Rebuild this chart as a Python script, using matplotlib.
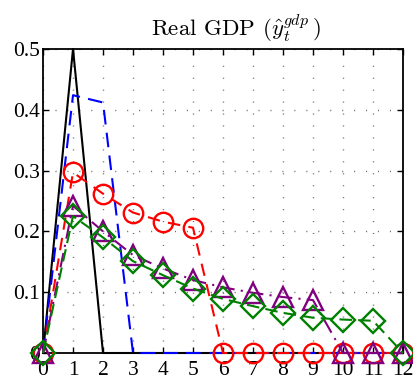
import matplotlib
matplotlib.use("Agg")
import matplotlib.pyplot as plt

periods = list(range(13))
black_vals = [0, 0.5, 0, 0, 0, 0, 0, 0, 0, 0, 0, 0, 0]
blue_vals = [0, 0.424, 0.412, 0, 0, 0, 0, 0, 0, 0, 0, 0, 0]
red_vals = [0, 0.297, 0.262, 0.231, 0.216, 0.206, 0, 0, 0, 0, 0, 0, 0]
purple_vals = [0, 0.242, 0.200, 0.161, 0.139, 0.120, 0.108, 0.099, 0.092, 0.087, 0, 0, 0]
green_vals = [0, 0.225, 0.190, 0.151, 0.128, 0.106, 0.089, 0.077, 0.066, 0.058, 0.055, 0.053, 0]
yticks = [0, 0.1, 0.2, 0.3, 0.4, 0.5]
ytick_labels = ["0", "0.1", "0.2", "0.3", "0.4", "0.5"]

plt.rcParams["mathtext.fontset"] = "cm"

fig = plt.figure(figsize=(4.14, 3.81), dpi=100)
ax = fig.add_axes([0.1039, 0.0735, 0.8695, 0.7979])

lw = 1.5
ms = 14
mew = 1.7
ax.plot(periods, black_vals, color="black", lw=lw, ls="-", clip_on=False, zorder=3)
ax.plot(periods, blue_vals, color="#0000ff", lw=lw, ls=(0, (7, 4)), clip_on=False, zorder=4)
ax.plot(periods, red_vals, color="#ff0000", lw=lw, ls=(0, (6, 4)), marker="o", ms=ms,
        mfc="none", mec="#ff0000", mew=mew, clip_on=False, zorder=5)
ax.plot(periods, purple_vals, color="#800080", lw=lw, ls=(0, (7, 3, 1, 3)), marker="^", ms=ms + 1,
        mfc="none", mec="#800080", mew=mew, clip_on=False, zorder=6)
ax.plot(periods, green_vals, color="#008000", lw=lw, ls=(0, (6, 3)), marker="D", ms=ms * 0.85,
        mfc="none", mec="#008000", mew=mew, clip_on=False, zorder=7)

ax.set_xlim(0, 12)
ax.set_ylim(0, 0.5)
ax.set_xticks(periods)
ax.set_xticklabels([str(p) for p in periods], family="Liberation Serif", fontsize=15.5)
ax.set_yticks(yticks)
ax.set_yticklabels(ytick_labels, family="Liberation Serif", fontsize=15.5)
ax.tick_params(direction="in", length=4, width=1, top=True, right=True)
ax.tick_params(axis="x", pad=6)
ax.tick_params(axis="y", pad=2)
ax.grid(True, ls=(0, (0.8, 7.8)), color="#707070", lw=1.0)
for s in ax.spines.values():
    s.set_linewidth(1.3)
    s.set_zorder(2)

ax.set_title(r"Real GDP ($\hat{y}_t^{gdp}\,$)", family="cmr10", fontsize=16.5, pad=9, x=0.535)

fig.savefig("out.png", dpi=100)
